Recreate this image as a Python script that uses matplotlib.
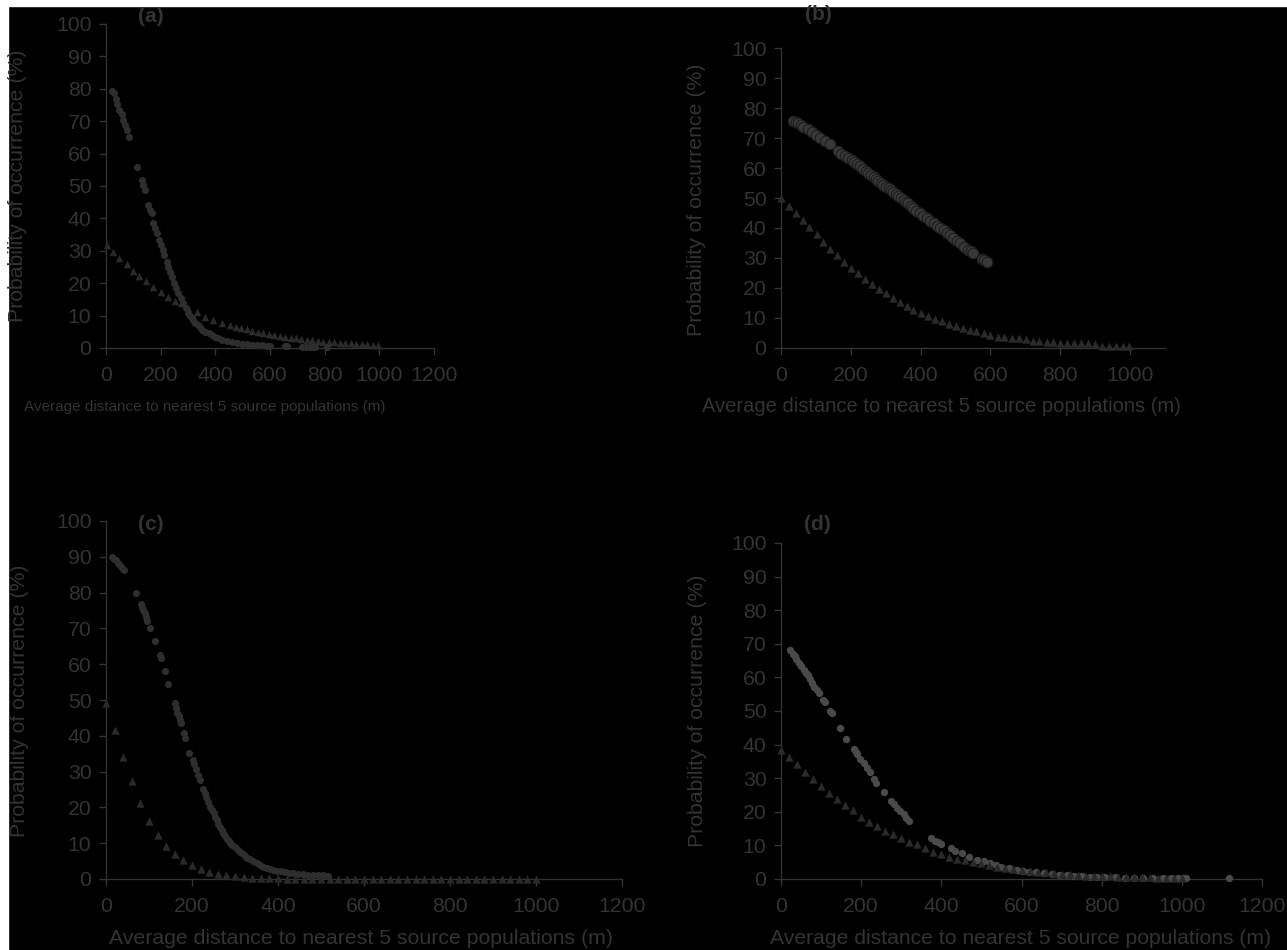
import numpy as np
import matplotlib
matplotlib.use("Agg")
import matplotlib.pyplot as plt
from matplotlib.patches import Rectangle

plt.rcParams['font.family'] = ['Liberation Sans', 'DejaVu Sans']

W, H = 1287, 950

# panel (a)
a_circ_x = [23, 29, 35, 42, 49, 57, 63, 70, 76, 85, 115, 130, 137, 143, 155, 161, 167, 173, 179, 185,
            195, 201, 207, 212, 222, 228, 234, 240, 249, 256, 265, 273, 283, 293, 301, 308, 314, 320, 326, 335,
            344, 353, 362, 375, 387, 399, 411, 426, 442, 460, 478, 496, 515, 533, 551, 570, 588, 600, 655, 662,
            718, 730, 745, 758, 765, 808]
a_circ_y = [79.3, 78.8, 76.8, 75.2, 73.5, 72.1, 70.4, 68.8, 67.3, 65.0, 56.0, 51.9, 50.3, 48.8, 44.1, 42.6, 41.6, 38.5, 36.9, 35.4,
            33.3, 31.8, 30.2, 28.7, 26.6, 25.1, 23.5, 22.0, 20.0, 18.4, 16.9, 15.3, 13.8, 12.2, 10.7, 9.9, 9.2, 8.5, 7.8, 7.1,
            6.4, 5.7, 5.0, 4.5, 4.0, 3.5, 3.0, 2.6, 2.2, 1.8, 1.4, 1.2, 1.1, 1.0, 0.9, 0.8, 0.7, 0.7, 0.5, 0.5,
            0.4, 0.4, 0.4, 0.4, 0.4, 0.3]
a_tri_x = [2, 24, 48, 76, 100, 122, 145, 173, 201, 228, 252, 274, 301, 332, 362, 393, 423, 454,
           475, 495, 515, 535, 555, 575, 595, 615, 635, 655, 675, 695, 715, 735, 755, 775, 795, 815,
           835, 855, 875, 895, 915, 935, 955, 975, 995]
a_tri_y = [31.8, 29.7, 27.9, 25.8, 23.9, 22.2, 20.7, 18.9, 17.4, 15.8, 14.6, 13.8, 12.2, 11.2, 9.7, 8.6, 7.8, 7.1,
           6.6, 6.2, 5.8, 5.4, 5.0, 4.7, 4.3, 4.0, 3.7, 3.5, 3.2, 3.0, 2.8, 2.6, 2.4, 2.2, 2.0, 1.9,
           1.7, 1.6, 1.5, 1.4, 1.3, 1.2, 1.1, 1.0, 0.9]

# panel (b)
b_circ_x = [35, 42, 50, 57, 64, 76, 88, 100, 112, 126, 140, 164, 173, 183, 193, 203, 210, 217, 226, 236,
            243, 250, 258, 265, 272, 279, 286, 293, 300, 308, 315, 322, 329, 336, 343, 351, 358, 365, 372, 379,
            388, 398, 408, 418, 428, 437, 447, 456, 466, 475, 485, 494, 503, 513, 525, 537, 544, 551, 575, 582, 590]
b_circ_y = [75.7, 75.3, 74.9, 74.3, 73.8, 73.0, 72.1, 71.0, 69.9, 68.9, 67.9, 65.7, 64.8, 64.0, 63.3, 62.7, 62.0, 61.3, 60.5, 59.7,
            59.0, 58.4, 57.6, 56.9, 56.3, 55.8, 55.0, 54.3, 53.8, 53.2, 52.6, 52.1, 51.4, 50.7, 50.0, 49.3, 48.7, 48.2, 47.4, 46.6,
            45.8, 45.1, 44.1, 43.2, 42.4, 41.6, 40.8, 40.1, 39.2, 38.4, 37.5, 36.6, 35.8, 34.9, 33.8, 32.7, 32.3, 31.8, 29.7, 29.2, 28.8]
b_tri_x = [0, 23, 42, 62, 81, 102, 121, 140, 160, 180, 201, 221, 241, 260, 281, 301, 320, 341, 362, 379,
           400, 420, 441, 460, 481, 501, 520, 541, 560, 581, 600, 621, 640, 661, 682, 701, 721, 740, 761, 780,
           800, 819, 840, 860, 880, 900, 919, 939, 960, 980, 998]
b_tri_y = [49.9, 47.4, 45.1, 42.7, 40.4, 37.9, 35.4, 33.0, 31.0, 28.8, 26.8, 25.1, 22.9, 21.2, 19.6, 18.2, 16.6, 15.4, 14.0, 12.7,
           11.6, 10.6, 9.7, 9.0, 8.0, 7.2, 6.7, 6.0, 5.6, 4.9, 4.3, 3.8, 3.6, 3.2, 3.2, 2.9, 2.4, 2.4, 2.1, 2.1,
           1.8, 1.8, 1.6, 1.6, 1.6, 1.3, 0.8, 0.8, 0.8, 0.8, 0.8]

# panel (c)
c_circ_x = [14, 19, 24, 29, 33, 38, 43, 70, 81, 84, 87, 90, 93, 96, 102, 114, 126, 128, 137, 145,
            160, 163, 166, 169, 172, 174, 181, 184, 194, 202, 205, 209, 213, 219, 226, 230, 233, 238, 242, 246,
            250, 254, 257, 261, 265, 269, 273, 277, 281, 285, 288, 294, 300, 306, 312, 318, 323, 329, 335, 343,
            350, 358, 366, 374, 381, 389, 397, 406, 416, 426, 436, 447, 459, 470, 482, 494, 505, 517]
c_circ_y = [90.0, 89.5, 89.1, 88.4, 87.7, 87.0, 86.3, 80.0, 76.7, 75.9, 75.1, 74.2, 73.3, 72.1, 70.0, 66.6, 62.6, 61.6, 58.1, 54.5,
            49.2, 47.8, 46.5, 45.4, 44.4, 43.5, 40.7, 39.3, 35.3, 33.2, 32.1, 30.6, 29.1, 27.7, 25.1, 24.0, 23.0, 21.6, 20.2, 19.2,
            18.3, 17.4, 16.5, 15.5, 14.6, 13.7, 12.9, 12.1, 11.3, 10.7, 10.1, 9.4, 8.8, 8.2, 7.6, 7.0, 6.4, 5.9, 5.5, 4.9,
            4.4, 3.9, 3.4, 3.1, 2.8, 2.5, 2.3, 2.1, 1.9, 1.7, 1.6, 1.4, 1.3, 1.2, 1.1, 1.1, 1.0, 0.8]
c_tri_x = [0, 20, 40, 60, 80, 100, 120, 140, 160, 180, 200, 220, 240, 260, 280, 300, 320, 340, 360, 380,
           400, 420, 440, 460, 480, 500, 520, 540, 560, 580, 600, 620, 640, 660, 680, 700, 720, 740, 760, 780,
           800, 820, 840, 860, 880, 900, 920, 940, 960, 980, 1000]
c_tri_y = [49.1, 41.6, 34.0, 27.5, 21.3, 16.3, 12.3, 9.2, 7.0, 5.3, 3.9, 2.7, 2.0, 1.4, 1.1, 0.8, 0.6, 0.4, 0.3, 0.2,
           0.15, 0.1, 0.1, 0.1, 0.05, 0.05, 0.05, 0.0, 0.0, 0.0, 0.0, 0.0, 0.0, 0.0, 0.0, 0.0, 0.0, 0.0, 0.0, 0.0,
           0.0, 0.0, 0.0, 0.0, 0.0, 0.0, 0.0, 0.0, 0.0, 0.0, 0.0]

# panel (d)
d_circ_x = [23, 29, 34, 38, 44, 51, 57, 63, 67, 72, 78, 83, 90, 96, 106, 111, 123, 127, 148, 162,
            181, 186, 190, 198, 206, 215, 221, 231, 238, 256, 275, 281, 290, 298, 306, 313, 320, 375, 385, 391,
            398, 423, 433, 452, 468, 490, 507, 522, 536, 550, 570, 589, 604, 618, 637, 656, 675, 694, 713, 732,
            751, 770, 789, 808, 833, 857, 880, 904, 928, 952, 972, 991, 1002, 1010, 1118]
d_circ_y = [68.1, 67.1, 66.4, 65.6, 64.3, 63.3, 62.3, 61.4, 60.7, 59.4, 58.4, 57.2, 56.2, 55.4, 53.4, 52.7, 50.0, 49.3, 45.0, 41.8,
            38.6, 37.8, 37.1, 35.6, 34.4, 33.1, 31.9, 29.9, 28.6, 26.0, 23.2, 22.2, 21.2, 20.2, 19.2, 18.3, 17.3, 12.3, 11.4, 10.9,
            10.4, 9.1, 8.4, 7.6, 6.6, 5.8, 5.35, 4.65, 4.1, 3.66, 3.2, 2.7, 2.45, 2.2, 1.95, 1.7, 1.45, 1.2, 1.05, 0.9,
            0.8, 0.7, 0.6, 0.5, 0.45, 0.4, 0.35, 0.3, 0.25, 0.2, 0.2, 0.2, 0.2, 0.2, 0.2]
d_tri_x = c_tri_x
d_tri_y = [38.4, 36.4, 34.2, 31.7, 29.9, 27.7, 25.7, 23.7, 22.0, 20.5, 18.5, 17.0, 15.8, 14.4, 13.4, 12.1, 11.1, 10.3, 9.1, 8.1,
           7.4, 6.6, 5.9, 5.6, 5.1, 4.7, 4.2, 3.7, 3.4, 3.0, 2.7, 2.5, 2.2, 2.0, 1.7, 1.5, 1.5, 1.2, 1.0, 1.0,
           0.9, 0.8, 0.7, 0.6, 0.6, 0.5, 0.5, 0.4, 0.4, 0.3, 0.3]

panel_labels = ['(a)', '(b)', '(c)', '(d)']
xlabel = 'Average distance to nearest 5 source populations (m)'
ylabel = 'Probability of occurrence (%)'

TXT = '#333333'
INK = '#2a2a2a'

fig = plt.figure(figsize=(W / 100, H / 100), dpi=100, facecolor='black')
# white strips along the top and left edge of the scan
fig.patches.append(Rectangle((0, 1 - 6 / H), 1, 6 / H, transform=fig.transFigure, color='white', zorder=0))
fig.patches.append(Rectangle((0, 0), 8 / W, 1, transform=fig.transFigure, color='white', zorder=0))


def px_axes(l, t, r, b):
    return fig.add_axes([l / W, 1 - b / H, (r - l) / W, (b - t) / H])


def style(ax, xmax, xticks):
    ax.set_facecolor('none')
    ax.set_xlim(0, xmax)
    ax.set_ylim(0, 100)
    ax.set_xticks(xticks)
    ax.set_yticks(range(0, 101, 10))
    for s in ['top', 'right']:
        ax.spines[s].set_visible(False)
    for s in ['left', 'bottom']:
        ax.spines[s].set_color(TXT)
        ax.spines[s].set_linewidth(1.0)
    ax.tick_params(axis='both', colors=TXT, labelsize=15.3, length=5, width=1.0, direction='out')
    ax.tick_params(axis='x', pad=8)
    ax.tick_params(axis='y', pad=5.5)


def ftext(x, y, s, **kw):
    fig.text(x / W, 1 - y / H, s, color=TXT, ha='center', va='center', **kw)


# (a)
ax = px_axes(106, 24, 434, 348)
style(ax, 1200, range(0, 1201, 200))
ax.scatter(a_tri_x, a_tri_y, marker='^', s=30, color=INK, linewidths=0, clip_on=False, zorder=3)
ax.scatter(a_circ_x, a_circ_y, marker='o', s=26, color='#2e2e2e', linewidths=0, clip_on=False, zorder=3)

# (b)
ax = px_axes(781, 48, 1165, 348)
style(ax, 1100, range(0, 1001, 200))
ax.scatter(b_tri_x, b_tri_y, marker='^', s=36, color=INK, linewidths=0, clip_on=False, zorder=3)
ax.scatter(b_circ_x, b_circ_y, marker='o', s=58, color='#383838', edgecolors='#1e1e1e', linewidths=0.8,
           clip_on=False, zorder=3)

# (c)
ax = px_axes(106, 521, 622, 879)
style(ax, 1200, range(0, 1201, 200))
ax.scatter(c_tri_x, c_tri_y, marker='^', s=36, color=INK, linewidths=0, clip_on=False, zorder=3)
ax.scatter(c_circ_x, c_circ_y, marker='o', s=26, color='#2e2e2e', linewidths=0, clip_on=False, zorder=3)

# (d)
ax = px_axes(781, 543, 1262, 879)
style(ax, 1200, range(0, 1201, 200))
ax.scatter(d_circ_x, d_circ_y, marker='o', s=28, color='#4a4a4a', linewidths=0, clip_on=False, zorder=3)
ax.scatter(d_tri_x, d_tri_y, marker='^', s=36, color=INK, linewidths=0, clip_on=False, zorder=3)

# panel letters
ftext(151, 16, panel_labels[0], fontsize=15, fontweight='bold')
ftext(818, 15, panel_labels[1], fontsize=15, fontweight='bold')
ftext(151, 525, panel_labels[2], fontsize=15, fontweight='bold')
ftext(817, 525, panel_labels[3], fontsize=15, fontweight='bold')

# axis titles
ftext(205, 407, xlabel, fontsize=11)
ftext(941, 407, xlabel, fontsize=14.5)
ftext(361, 938, xlabel, fontsize=15.3)
ftext(1021, 938, xlabel, fontsize=15.2)
ftext(18, 186, ylabel, fontsize=15.3, rotation=90)
ftext(696, 200, ylabel, fontsize=15.3, rotation=90)
ftext(19.5, 701, ylabel, fontsize=15.3, rotation=90)
ftext(697, 711, ylabel, fontsize=15.3, rotation=90)

fig.savefig('out.png', dpi=100, facecolor=fig.get_facecolor())
